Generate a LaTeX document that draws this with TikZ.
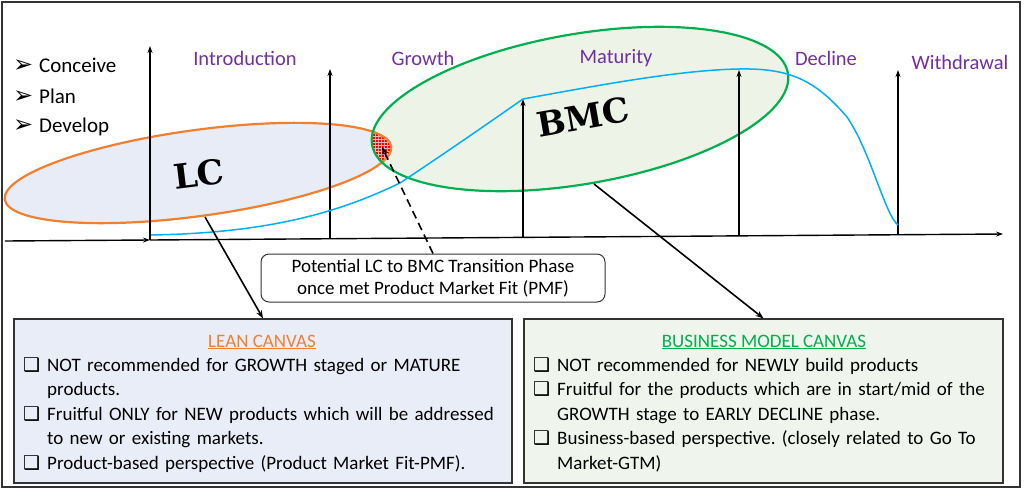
\documentclass[tikz,border=0pt]{standalone}
\usepackage{fontspec}
\setmainfont{Carlito}
\newfontfamily\dingfont{DejaVu Sans}
\newfontfamily\slabfont{DejaVu Serif}
\usetikzlibrary{arrows.meta,patterns}
\definecolor{phasepurple}{HTML}{7030A0}
\definecolor{curveblue}{HTML}{00B0F0}
\definecolor{lcorange}{HTML}{F0802F}
\definecolor{bmcgreen}{HTML}{00B050}
\definecolor{lcfill}{HTML}{E8ECF6}
\definecolor{bmcfill}{HTML}{EDF3E6}
\definecolor{lcboxfill}{HTML}{E9EDF7}
\definecolor{bmcboxfill}{HTML}{EFF5EC}
\definecolor{framegray}{HTML}{333333}
\frenchspacing
\newcommand\cbitem[1]{\noindent\hangindent=24pt\hangafter=1\makebox[24pt][l]{\dingfont\fontsize{19}{19}\selectfont ❑}#1\par}
\newcommand\stagemark{\makebox[26pt][l]{\dingfont\fontsize{24}{24}\selectfont ➢}}
\tikzset{
  phaselabel/.style={text=phasepurple, font=\fontsize{20.5}{24}\selectfont, inner sep=0pt},
  stagelabel/.style={anchor=west, font=\fontsize{21}{24}\selectfont, inner sep=0pt},
  axisarrow/.style={-{Stealth[length=7pt,width=5pt]}, line width=1.4pt},
  lc shape/.style={rotate around={7.8:(198,173)}, insert path={(198,173) ellipse [x radius=195, y radius=43]}},
  bmc shape/.style={rotate around={9.8:(580,109)}, insert path={(580,109) ellipse [x radius=211, y radius=75]}},
  canvasbox/.style={draw=framegray, line width=1.2pt, minimum height=164pt, inner sep=0pt},
  boxtitle/.style={font=\fontsize{19}{22}\selectfont, inner sep=0pt},
  boxlist/.style={anchor=north west, text width=490pt, align=left, font=\fontsize{19}{24.5}\selectfont, inner sep=0pt},
  bigtag/.style={font=\slabfont\bfseries\fontsize{34}{36}\selectfont, inner sep=0pt}
}
\begin{document}
\begin{tikzpicture}[x=1pt,y=-1pt,>={Stealth[length=8pt,width=6pt]}]
  \useasboundingbox (0,0) rectangle (1024,490);
  \draw[framegray, line width=1.5pt] (2,2) rectangle (1020,487);

  \fill[lcfill, lc shape];
  \fill[bmcfill, bmc shape];
  \begin{scope}
    \clip[lc shape];
    \fill[red, bmc shape];
    \fill[pattern=grid, pattern color=red!30!white, bmc shape];
  \end{scope}
  \draw[lcorange, line width=2.2pt, lc shape];
  \draw[bmcgreen, line width=2.2pt, bmc shape];

  \coordinate (xstart) at (5,241);
  \coordinate (origin) at (150,240);
  \coordinate (xend) at (1003,234);
  \draw[axisarrow] (xstart) -- (origin);
  \draw[axisarrow] (origin) -- (xend);
  \foreach \i/\x/\y/\top in {1/150/240/46, 2/330/239/69, 3/523/237/99, 4/739/236/70, 5/898/235/70} {
    \coordinate (base\i) at (\x,\y);
    \coordinate (top\i) at (\x,\top);
    \draw[axisarrow] (base\i) -- (top\i);
  }

  \draw[curveblue, line width=1.5pt] (151,235)
    .. controls (270,233) and (340,212) .. (400,183)
    .. controls (450,150) and (500,115) .. (523,99)
    .. controls (600,85) and (680,70) .. (739,69)
    .. controls (790,68) and (815,80) .. (847,117)
    .. controls (870,150) and (885,215) .. (898,225);

  \node[stagelabel] (conceive) at (13,65) {\stagemark Conceive};
  \node[stagelabel] (plan) at (13,96) {\stagemark Plan};
  \node[stagelabel] (develop) at (13,127) {\stagemark Develop};

  \node[phaselabel] (intro) at (245,58) {Introduction};
  \node[phaselabel] (growth) at (423,58) {Growth};
  \node[phaselabel] (maturity) at (616,58) {Maturity};
  \node[phaselabel] (decline) at (826,58) {Decline};
  \node[phaselabel] (withdrawal) at (960,62) {Withdrawal};

  \node[bigtag, rotate=7] (lctag) at (199,174) {LC};
  \node[bigtag, rotate=10] (bmctag) at (583,117) {BMC};

  \node[draw=framegray, rounded corners=8pt, line width=1pt, minimum width=344pt, minimum height=48pt,
        align=center, font=\fontsize{19}{22}\selectfont] (pmf) at (433,278)
    {Potential LC to BMC Transition Phase\\once met Product Market Fit (PMF)};

  \node[canvasbox, fill=lcboxfill, minimum width=498pt] (lcbox) at (263,401) {};
  \node[canvasbox, fill=bmcboxfill, minimum width=479pt] (bmcbox) at (763.5,401) {};
  \node[boxtitle, text=lcorange] (lctitle) at (262,342) {\underline{LEAN CANVAS}};
  \node[boxtitle, text=bmcgreen] (bmctitle) at (764,342) {\underline{BUSINESS MODEL CANVAS}};
  \node[boxlist] (lclist) at (23,357) {%
    \cbitem{NOT recommended for GROWTH staged or MATURE\newline products.}
    \cbitem{Fruitful ONLY for NEW products which will be addressed\newline to new or existing markets.}
    \cbitem{Product-based perspective (Product Market Fit-PMF).}};
  \node[boxlist] (bmclist) at (533,357) {%
    \cbitem{NOT recommended for NEWLY build products}
    \cbitem{Fruitful for the products which are in start/mid of the\newline GROWTH stage to EARLY DECLINE phase.}
    \cbitem{Business-based perspective. (closely related to Go To\newline Market-GTM)}};

  \coordinate (lcfoot) at (205,217);
  \coordinate (bmcfoot) at (594,184);
  \coordinate (pmfspot) at (382,147);
  \draw[->, line width=1.6pt] (lcfoot) -- (lcbox.north);
  \draw[->, line width=1.6pt] (bmcfoot) -- (bmcbox.north);
  \draw[->, line width=1.6pt, dash pattern=on 8pt off 5pt] (pmf.north) -- (pmfspot);
\end{tikzpicture}
\end{document}
